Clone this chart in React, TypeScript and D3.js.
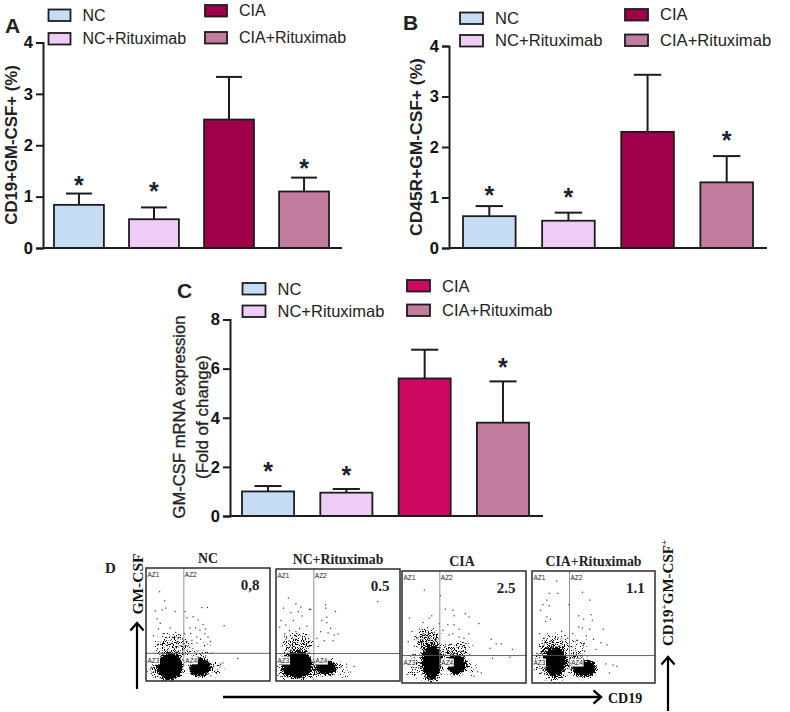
import React, { useEffect, useRef } from "react";
import * as d3 from "d3";

const groups = ["NC", "NC+Rituximab", "CIA", "CIA+Rituximab"];
const fillsAB = ["#c6dcf5", "#eeccf5", "#a0004a", "#c27c9e"];
const fillsC = ["#c6dcf5", "#eeccf5", "#cc0860", "#c27c9e"];

const meansA = [0.84, 0.56, 2.5, 1.1];
const topsA = [1.06, 0.79, 3.33, 1.37];
const meansB = [0.63, 0.54, 2.3, 1.3];
const topsB = [0.83, 0.7, 3.43, 1.82];
const meansC = [1.0, 0.95, 5.6, 3.8];
const topsC = [1.22, 1.1, 6.77, 5.48];

const ticksAB = [0, 1, 2, 3, 4];
const ticksC = [0, 2, 4, 6, 8];

// star height on the value axis (null: no star)
const starsA = [1.35, 1.22, null, 1.68];
const starsB = [1.16, 1.12, null, 2.26];
const starsC = [2.07, 1.9, null, 6.32];

const flowTitles = ["NC", "NC+Rituximab", "CIA", "CIA+Rituximab"];
const flowValues = ["0,8", "0.5", "2.5", "1.1"];

// flow-plot clouds [x%, y%, rx%, ry%, density]
const cloudsNC = [[19.5, 13, 10, 10.5, 1], [43.5, 12, 8.5, 7.5, 1], [21, 31, 14, 11, 0.3], [8, 12, 7, 9, 0.3], [19, 5, 9, 5, 0.36], [43, 26, 10, 7, 0.2], [57, 11, 5, 7, 0.2]];
const cloudsNCR = [[17, 15, 11.5, 11, 1], [41, 12, 7.5, 6.5, 1], [18, 33, 13, 10, 0.3], [54, 10, 6, 7, 0.22], [5, 12, 4, 10, 0.35], [30, 11, 6, 8, 0.38], [17, 5, 10, 5, 0.36]];
const cloudsCIA = [[24, 19, 7.5, 14, 1], [44, 16, 7.5, 8, 1], [21, 38, 10, 12, 0.36], [36, 27, 7, 9, 0.26], [48, 30, 8, 9, 0.26], [10, 16, 7, 11, 0.25], [56, 14, 4, 8, 0.22], [24, 5, 7, 5, 0.38]];
const cloudsCIAR = [[19, 19, 8, 12, 1], [43, 13, 9, 7, 1], [17, 34, 12, 10, 0.3], [34, 18, 8, 10, 0.32], [7, 19, 6, 11, 0.3], [36, 33, 9, 10, 0.16], [19, 6, 8, 5, 0.38]];

// sparse events [x%, y%]
const dotsNC = [[11, 79], [15, 71], [7.5, 62], [13, 63], [16, 64.5], [23.5, 61.5], [9, 55], [11.5, 51], [10, 46], [19.5, 47], [31.5, 61.5], [45, 65], [49.5, 65], [38, 57], [42, 54], [46, 50], [63, 49], [35.5, 47], [43.5, 45], [47.5, 42], [50, 39], [41, 39], [33, 35], [74, 20], [60, 15], [62, 16], [33, 56], [36, 42], [40, 47], [44, 37], [37, 36], [31, 42], [52, 35], [48, 46], [6, 40], [14, 42], [24, 43]];
const dotsNCR = [[10, 74], [16, 69], [6, 65], [20, 66], [12, 61], [18, 62], [21, 58], [4, 54], [14, 54], [8, 50], [19, 47], [11, 45], [27, 64], [28, 64], [40, 68], [40, 65], [48, 62], [41, 57], [37, 54], [41, 52], [44, 47], [42, 43], [47, 41], [39, 36], [33, 38], [82, 71], [63, 13], [60, 8], [57, 15], [50, 42], [3, 48], [7, 42], [16, 44], [25, 49], [36, 44], [46, 36], [34, 31]];
const dotsCIA = [[18, 83], [31, 78], [35, 66], [41, 65], [51, 62], [54, 59], [42, 60], [6, 58], [22, 58], [24, 60], [17, 54], [30, 53], [37, 52], [42, 52], [46, 48], [62, 53], [8, 46], [14, 48], [72, 39], [76, 35], [80, 35], [71, 31], [89, 30], [73, 22], [87, 23], [41, 44], [50, 40], [58, 6], [61, 10], [64, 9], [33, 47], [38, 43], [46, 41], [54, 44], [5, 37], [10, 33], [12, 40]];
const dotsCIAR = [[20, 91], [14, 80], [21, 80], [12, 74], [9, 70], [14, 69], [7, 65], [12, 59], [15, 57], [11, 55], [30, 70], [41, 81], [47, 74], [38, 60], [42, 57], [48, 61], [49, 56], [38, 50], [41, 49], [47, 48], [58, 48], [44, 42], [50, 39], [56, 36], [61, 34], [66, 16], [69, 15], [60, 17], [63, 9], [33, 44], [37, 38], [42, 35], [52, 30], [6, 44], [10, 40], [24, 46], [29, 40]];

const flowPanels = [
  { x0: 146, x1: 270, y0: 568, y1: 681, clouds: cloudsNC, dots: dotsNC, seed: 3 },
  { x0: 276, x1: 400, y0: 569, y1: 681, clouds: cloudsNCR, dots: dotsNCR, seed: 8 },
  { x0: 402, x1: 526, y0: 571, y1: 683, clouds: cloudsCIA, dots: dotsCIA, seed: 5 },
  { x0: 532, x1: 655, y0: 571, y1: 683, clouds: cloudsCIAR, dots: dotsCIAR, seed: 11 },
];

const SANS = "'Liberation Sans', Arial, sans-serif";
const SERIF = "'Liberation Serif', 'Times New Roman', serif";
const INK = "#1c1c1c";

function BarPanel(props: any) {
  const { means, tops, stars, ticks, fills, axisX, axisEnd, yTop, yBase, barStart, barEnd, legend, yMax } = props;
  const axisRef = useRef<SVGGElement>(null);
  const y = d3.scaleLinear().domain([0, yMax]).range([yBase, yTop]);
  const x = d3.scaleBand().domain(groups).range([barStart, barEnd]).paddingInner(0.335).paddingOuter(0);

  useEffect(() => {
    const g = d3.select(axisRef.current as SVGGElement);
    g.call(d3.axisLeft(y).tickValues(ticks).tickSize(7).tickPadding(3).tickFormat(d3.format("d")) as any);
    g.select(".domain").attr("stroke", INK).attr("stroke-width", 2);
    g.selectAll(".tick line").attr("stroke", INK).attr("stroke-width", 2);
    g.selectAll(".tick text")
      .attr("fill", "#111")
      .style("font-family", SANS)
      .style("font-size", "16.5px")
      .style("font-weight", "700");
  }, []);

  return (
    <g>
      {groups.map((g, i) => {
        const bx = x(g) as number;
        const bw = x.bandwidth();
        const cx = bx + bw / 2;
        return (
          <g key={g}>
            <line x1={cx} x2={cx} y1={y(means[i])} y2={y(tops[i])} stroke={INK} strokeWidth={2} />
            <line x1={cx - bw * 0.26} x2={cx + bw * 0.26} y1={y(tops[i])} y2={y(tops[i])} stroke={INK} strokeWidth={2} />
            <rect x={bx} y={y(means[i])} width={bw} height={yBase - y(means[i])} fill={fills[i]} stroke={INK} strokeWidth={1.8} />
            {stars[i] != null && (
              <text x={cx} y={y(stars[i])} textAnchor="middle" dominantBaseline="central" dy={6} fontFamily={SANS} fontWeight={700} fontSize={25} fill="#1a2230">
                *
              </text>
            )}
          </g>
        );
      })}
      <line x1={axisX} x2={axisEnd} y1={yBase} y2={yBase} stroke={INK} strokeWidth={2} />
      <g ref={axisRef} transform={`translate(${axisX},0)`} />
      {groups.map((g, i) => {
        const l = legend;
        const col = i < 2 ? 0 : 1;
        return (
          <g key={g}>
            <rect x={l.sx + (col ? l.tx : 0)} y={l.rows[i]} width={l.sw} height={l.sh} fill={fills[i]} stroke={INK} strokeWidth={1.8} />
            <text
              x={l.sx + (col ? l.tx : 0) + l.sw + 12}
              y={l.rows[i] + l.sh / 2}
              dominantBaseline="central"
              fontFamily={SANS}
              fontSize={l.fs}
              fill="#222"
            >
              {g}
            </text>
          </g>
        );
      })}
    </g>
  );
}

function FlowPanel({ panel, title, value, titleDy }: any) {
  const sx = d3.scaleLinear().domain([0, 100]).range([panel.x0, panel.x1]);
  const sy = d3.scaleLinear().domain([0, 100]).range([panel.y1, panel.y0]);
  const kx = (panel.x1 - panel.x0) / 100;
  const ky = (panel.y1 - panel.y0) / 100;
  const id = `speck${panel.seed}`;
  const gateX = sx(30.5);
  const gateY = sy(24.5);
  const labelStyle = { fontFamily: SANS, fontSize: 6.5, fill: "#222" } as const;
  return (
    <g>
      <filter id={id} x="-10%" y="-10%" width="120%" height="120%" colorInterpolationFilters="sRGB">
        <feGaussianBlur in="SourceGraphic" stdDeviation="2.6" result="soft" />
        <feTurbulence type="fractalNoise" baseFrequency="0.9" numOctaves="2" seed={panel.seed} result="noise" />
        <feColorMatrix in="noise" type="matrix" values="0 0 0 0 0  0 0 0 0 0  0 0 0 0 0  2 0 0 0 -0.5" result="na" />
        <feComposite in="soft" in2="na" operator="arithmetic" k1="0" k2="1.5" k3="1" k4="-1" result="sum" />
        <feComponentTransfer in="sum" result="hard">
          <feFuncA type="linear" slope="6" intercept="0" />
          <feFuncR type="linear" slope="0" intercept="0" />
          <feFuncG type="linear" slope="0" intercept="0" />
          <feFuncB type="linear" slope="0" intercept="0" />
        </feComponentTransfer>
      </filter>
      <clipPath id={`${id}c`}>
        <rect x={panel.x0} y={panel.y0} width={panel.x1 - panel.x0} height={panel.y1 - panel.y0} />
      </clipPath>
      <rect x={panel.x0} y={panel.y0} width={panel.x1 - panel.x0} height={panel.y1 - panel.y0} fill="#fff" />
      <g clipPath={`url(#${id}c)`}>
        <g filter={`url(#${id})`}>
          {panel.clouds.map((c: number[], i: number) => (
            <ellipse key={i} cx={sx(c[0])} cy={sy(c[1])} rx={c[2] * kx} ry={c[3] * ky} fill="#000" fillOpacity={c[4]} />
          ))}
        </g>
      </g>
      {panel.dots.map((d: number[], i: number) => (
        <rect key={i} x={sx(d[0]) - 0.6} y={sy(d[1]) - 0.6} width={1.2} height={1.2} fill="#333" />
      ))}
      <line x1={gateX} x2={gateX} y1={panel.y0} y2={panel.y1 - 14} stroke="#888" strokeWidth={0.9} />
      <line x1={panel.x0} x2={panel.x1} y1={gateY} y2={gateY} stroke="#555" strokeWidth={0.9} />
      <rect x={panel.x0} y={panel.y0} width={panel.x1 - panel.x0} height={panel.y1 - panel.y0} fill="none" stroke="#2b2b2b" strokeWidth={1.5} />
      <text x={panel.x0 + 1.5} y={panel.y0 + 9} {...labelStyle}>AZ1</text>
      <text x={gateX + 1} y={panel.y0 + 9} {...labelStyle}>AZ2</text>
      <rect x={panel.x0 + 1} y={gateY + 3} width={13} height={8} fill="#fff" />
      <text x={panel.x0 + 1.5} y={gateY + 9.5} {...labelStyle}>AZ3</text>
      <rect x={gateX + 1} y={gateY + 3} width={13} height={8} fill="#fff" />
      <text x={gateX + 1.5} y={gateY + 9.5} {...labelStyle}>AZ4</text>
      <text x={panel.x0 + 0.84 * (panel.x1 - panel.x0)} y={panel.y0 + 22} textAnchor="middle" fontFamily={SERIF} fontWeight={700} fontSize={15} fill="#222">
        {value}
      </text>
      <text x={(panel.x0 + panel.x1) / 2 + titleDy} y={panel.y0 - 5} textAnchor="middle" fontFamily={SERIF} fontWeight={700} fontSize={13.8} fill="#222">
        {title}
      </text>
    </g>
  );
}

function Arrow({ x1, y1, x2, y2, w }: any) {
  const a = Math.atan2(y2 - y1, x2 - x1);
  const h = 10;
  const p = (t: number) => `${x2 - h * Math.cos(a + t)},${y2 - h * Math.sin(a + t)}`;
  return (
    <g fill="none" stroke="#000" strokeWidth={w}>
      <line x1={x1} y1={y1} x2={x2} y2={y2} />
      <polyline points={`${p(0.72)} ${x2},${y2} ${p(-0.72)}`} strokeWidth={w} />
    </g>
  );
}

export default function App() {
  const titleDy = [0, 0, -2, 0];
  return (
    <svg width={790} height={712} viewBox="0 0 790 712" style={{ position: "absolute", left: 0, top: 0, display: "block", background: "#fff" }}>
      <BarPanel
        means={meansA} tops={topsA} stars={starsA} ticks={ticksAB} fills={fillsAB} yMax={4}
        axisX={43} axisEnd={342} yTop={42.5} yBase={248} barStart={54} barEnd={329}
        legend={{ sx: 48.5, sw: 22, tx: 156.5, sh: 11.5, rows: [9.5, 33, 5, 32], fs: 16 }}
      />
      <BarPanel
        means={meansB} tops={topsB} stars={starsB} ticks={ticksAB} fills={fillsAB} yMax={4}
        axisX={449} axisEnd={767} yTop={46} yBase={248} barStart={463} barEnd={753}
        legend={{ sx: 460, sw: 23, tx: 165, sh: 11.5, rows: [12.5, 35, 9, 34.5], fs: 16.6 }}
      />
      <BarPanel
        means={meansC} tops={topsC} stars={starsC} ticks={ticksC} fills={fillsC} yMax={8}
        axisX={230} axisEnd={543} yTop={319.5} yBase={516} barStart={242} barEnd={529}
        legend={{ sx: 242.5, sw: 23, tx: 164.5, sh: 11.5, rows: [283, 305.5, 280, 304.5], fs: 16.5 }}
      />

      <text transform="translate(11,145) rotate(-90)" textAnchor="middle" dominantBaseline="central" fontFamily={SANS} fontWeight={700} fontSize={16.8} fill="#222">CD19+GM-CSF+ (%)</text>
      <text transform="translate(416,147) rotate(-90)" textAnchor="middle" dominantBaseline="central" fontFamily={SANS} fontWeight={700} fontSize={17.4} fill="#222">CD45R+GM-CSF+ (%)</text>
      <text transform="translate(179,417) rotate(-90)" textAnchor="middle" dominantBaseline="central" fontFamily={SANS} fontSize={16.6} stroke="#222" strokeWidth={0.3} fill="#222">GM-CSF mRNA expression</text>
      <text transform="translate(202,417) rotate(-90)" textAnchor="middle" dominantBaseline="central" fontFamily={SANS} fontSize={17} stroke="#222" strokeWidth={0.3} fill="#222">(Fold of change)</text>

      <text x={5} y={33} fontFamily={SANS} fontWeight={700} fontSize={21} fill="#222">A</text>
      <text x={403} y={30} fontFamily={SANS} fontWeight={700} fontSize={21} fill="#222">B</text>
      <text x={177} y={298} fontFamily={SANS} fontWeight={700} fontSize={21} fill="#222">C</text>
      <text x={105} y={573} fontFamily={SERIF} fontWeight={700} fontSize={15} fill="#222">D</text>

      {flowPanels.map((p, i) => (
        <FlowPanel key={i} panel={p} title={flowTitles[i]} value={flowValues[i]} titleDy={titleDy[i]} />
      ))}

      <text transform="translate(137,584) rotate(-90)" textAnchor="middle" dominantBaseline="central" fontFamily={SERIF} fontWeight={700} fontSize={15.5} fill="#111">GM-CSF</text>
      <Arrow x1={137} y1={689} x2={137} y2={623} w={2.2} />
      <Arrow x1={223} y1={697} x2={601} y2={697} w={2.4} />
      <text x={608} y={698} dominantBaseline="central" fontFamily={SERIF} fontWeight={700} fontSize={14} fill="#111">CD19</text>
      <text transform="translate(668,593) rotate(-90)" textAnchor="middle" dominantBaseline="central" fontFamily={SERIF} fontWeight={700} fontSize={15} fill="#111">
        CD19<tspan dy={-4} fontSize={9}>+</tspan><tspan dy={4}>GM-CSF</tspan><tspan dy={-4} fontSize={9}>+</tspan>
      </text>
      <Arrow x1={668} y1={711} x2={668} y2={657} w={2.2} />
    </svg>
  );
}
